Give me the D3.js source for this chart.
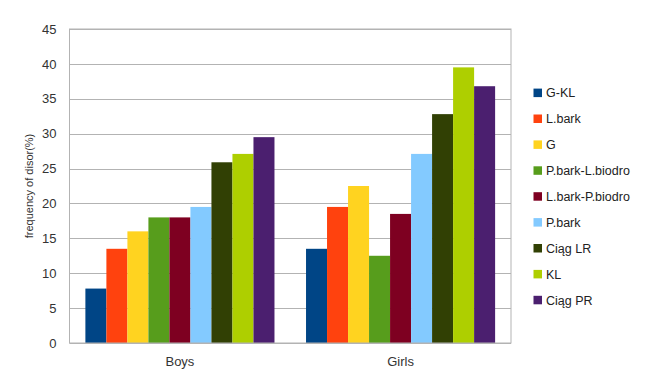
<!DOCTYPE html>
<html>
<head>
<meta charset="utf-8">
<script src="https://cdn.jsdelivr.net/npm/d3@7"></script>
<style>
  body { margin: 0; background: #fff; }
  svg { display: block; }
</style>
</head>
<body>
<svg width="660" height="378"></svg>
<script>
// groups on the x axis
const groups = ["Boys", "Girls"];
// series names (legend order)
const series = ["G-KL", "L.bark", "G", "P.bark-L.biodro", "L.bark-P.biodro", "P.bark", "Ciąg LR", "KL", "Ciąg PR"];
// values per series, [Boys, Girls]
const boysValues = [7.8, 13.5, 16, 18, 18, 19.5, 25.9, 27.1, 29.5];
const girlsValues = [13.5, 19.5, 22.5, 12.5, 18.5, 27.1, 32.8, 39.5, 36.8];
const yTicks = [0, 5, 10, 15, 20, 25, 30, 35, 40, 45];

const colors = ["#004586", "#ff420e", "#ffd320", "#579d1c", "#7e0021", "#83caff", "#314004", "#aecf00", "#4b1f6f"];

const svg = d3.select("svg");
const plotLeft = 69.5, plotRight = 511, plotTop = 29, plotBottom = 343;

const x0 = d3.scaleBand().domain(groups).range([plotLeft, plotRight]).paddingInner(0.143).paddingOuter(0.072);
const x1 = d3.scaleBand().domain(series).range([0, x0.bandwidth()]);
const y = d3.scaleLinear().domain([0, 45]).range([plotBottom, plotTop]);

// gridlines
svg.append("g")
  .selectAll("line")
  .data(yTicks)
  .enter()
  .append("line")
  .attr("x1", plotLeft)
  .attr("x2", plotRight)
  .attr("y1", (d) => Math.round(y(d)) + 0.5)
  .attr("y2", (d) => Math.round(y(d)) + 0.5)
  .attr("stroke", "#b3b3b3")
  .attr("stroke-width", 1);

// y tick labels
const yAxis = svg.append("g")
  .attr("transform", `translate(${plotLeft},0)`)
  .call(d3.axisLeft(y).tickValues(yTicks).tickSize(0).tickPadding(13));
yAxis.select(".domain").remove();
yAxis.selectAll("text")
  .style("font-family", "Liberation Sans, Arial, sans-serif")
  .style("font-size", "13px")
  .attr("fill", "#333");

// bars
const data = groups.map((g, gi) => ({
  group: g,
  values: series.map((s, si) => ({ key: s, value: gi === 0 ? boysValues[si] : girlsValues[si] }))
}));

svg.append("g")
  .selectAll("g")
  .data(data)
  .enter()
  .append("g")
  .attr("transform", (d) => `translate(${x0(d.group)},0)`)
  .selectAll("rect")
  .data((d) => d.values)
  .enter()
  .append("rect")
  .attr("x", (d) => x1(d.key))
  .attr("width", x1.bandwidth())
  .attr("y", (d) => y(d.value))
  .attr("height", (d) => y(0) - y(d.value))
  .attr("fill", (d, i) => colors[i]);

// plot frame
svg.append("rect")
  .attr("x", plotLeft)
  .attr("y", plotTop)
  .attr("width", plotRight - plotLeft)
  .attr("height", plotBottom - plotTop)
  .attr("fill", "none")
  .attr("stroke", "#b3b3b3")
  .attr("stroke-width", 1);

// x category labels
svg.append("g")
  .selectAll("text")
  .data(groups)
  .enter()
  .append("text")
  .attr("x", (d) => x0(d) + x0.bandwidth() / 2)
  .attr("y", 366)
  .attr("text-anchor", "middle")
  .style("font-family", "Liberation Sans, Arial, sans-serif")
  .style("font-size", "13px")
  .attr("fill", "#333")
  .text((d) => d);

// y axis title
svg.append("text")
  .attr("transform", `translate(33,${(plotTop + plotBottom) / 2}) rotate(-90)`)
  .attr("text-anchor", "middle")
  .style("font-family", "Liberation Sans, Arial, sans-serif")
  .style("font-size", "11px")
  .attr("fill", "#333")
  .text("frequency of disor(%)");

// legend
const legend = svg.append("g")
  .selectAll("g")
  .data(series)
  .enter()
  .append("g")
  .attr("transform", (d, i) => `translate(533.5,${92.8 + i * 25.9})`);
legend.append("rect")
  .attr("x", 0)
  .attr("y", -4.2)
  .attr("width", 8.5)
  .attr("height", 8.5)
  .attr("fill", (d, i) => colors[i]);
legend.append("text")
  .attr("x", 12.5)
  .attr("y", 4.5)
  .style("font-family", "Liberation Sans, Arial, sans-serif")
  .style("font-size", "12.5px")
  .attr("fill", "#222")
  .text((d) => d);
</script>
</body>
</html>
